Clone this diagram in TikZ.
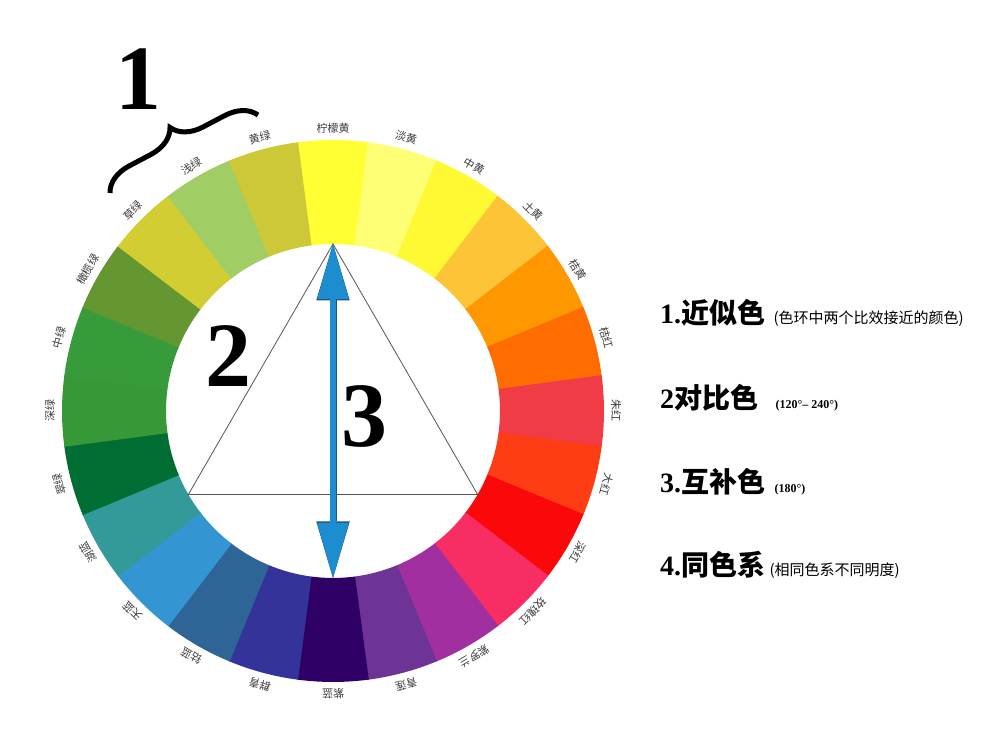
\documentclass[tikz,border=0pt]{standalone}
\usepackage{fontspec}
\newfontfamily\cjk{Noto Sans CJK SC}
\newfontfamily\numfont{Liberation Serif}
\usetikzlibrary{positioning,arrows.meta,decorations.pathreplacing}

% Hue colours, clockwise from the top
\definecolor{col0}{RGB}{255,255,51}
\definecolor{col1}{RGB}{255,255,118}
\definecolor{col2}{RGB}{255,249,52}
\definecolor{col3}{RGB}{253,196,55}
\definecolor{col4}{RGB}{255,152,0}
\definecolor{col5}{RGB}{255,108,0}
\definecolor{col6}{RGB}{240,60,70}
\definecolor{col7}{RGB}{255,61,20}
\definecolor{col8}{RGB}{250,8,10}
\definecolor{col9}{RGB}{248,45,100}
\definecolor{col10}{RGB}{162,47,160}
\definecolor{col11}{RGB}{110,51,150}
\definecolor{col12}{RGB}{46,0,102}
\definecolor{col13}{RGB}{51,51,153}
\definecolor{col14}{RGB}{46,100,150}
\definecolor{col15}{RGB}{51,150,210}
\definecolor{col16}{RGB}{51,153,153}
\definecolor{col17}{RGB}{0,110,50}
\definecolor{col18}{RGB}{55,152,55}
\definecolor{col19}{RGB}{55,155,60}
\definecolor{col20}{RGB}{100,150,50}
\definecolor{col21}{RGB}{210,205,50}
\definecolor{col22}{RGB}{160,205,100}
\definecolor{col23}{RGB}{205,200,55}
\definecolor{labelgray}{RGB}{60,60,60}
\definecolor{linegray}{RGB}{85,85,85}
\definecolor{arrowblue}{RGB}{28,142,208}
\definecolor{arrowedge}{RGB}{30,85,125}

\tikzset{
  hue label/.style={font=\cjk\fontsize{11}{11}\selectfont, text=labelgray,
    inner sep=0pt},
  big num/.style={font=\numfont\bfseries\fontsize{92}{92}\selectfont,
    inner sep=0pt},
  head/.style={font=\cjk\bfseries\fontsize{28}{28}\selectfont,
    anchor=west, inner sep=0pt},
  note/.style={font=\cjk\fontsize{15}{15}\selectfont, inner sep=0pt},
  degnote/.style={font=\numfont\bfseries\fontsize{12}{12}\selectfont,
    inner sep=0pt},
  tri line/.style={draw=linegray, line width=0.8pt},
  arrow edge/.style={draw=arrowedge, line width=7pt,
    {Triangle[length=56.5pt,width=33.5pt,line width=0pt]}-{Triangle[length=56.5pt,width=33.5pt,line width=0pt]}},
  arrow body/.style={draw=arrowblue, line width=5.8pt,
    {Triangle[length=55pt,width=31.5pt,line width=0pt]}-{Triangle[length=55pt,width=31.5pt,line width=0pt]}},
  brace mark/.style={decorate, decoration={brace, amplitude=30pt},
    line width=5pt},
}

\begin{document}
\begin{tikzpicture}[x=1pt, y=1pt]

  \fill[white] (0,0) rectangle (991,735); %
  \useasboundingbox (0,0) rectangle (991,735); %

  % Colour ring and hue names
  \begin{scope}[shift={(333,324)}]
    \foreach \k/\name in {0/柠檬黄, 1/淡黄, 2/中黄, 3/土黄, 4/桔黄, 5/桔红,
      6/朱红, 7/大红, 8/深红, 9/玫瑰红, 10/紫罗兰, 11/青莲, 12/紫蓝,
      13/群青, 14/钴蓝, 15/天蓝, 16/湖蓝, 17/翠绿, 18/深绿, 19/中绿,
      20/橄榄绿, 21/草绿, 22/浅绿, 23/黄绿} {
      \pgfmathsetmacro\a{90-15*\k}
      \fill[col\k] (\a+7.6:271pt)
        arc[start angle=\a+7.6, end angle=\a-7.6, radius=271pt]
        -- (\a-7.6:167pt)
        arc[start angle=\a-7.6, end angle=\a+7.6, radius=167pt] -- cycle; %
      \node[hue label, rotate=\a-90] (lbl-\k) at (\a:283pt) {\name}; %
    }

    % Triangle and arrow corners
    \coordinate (top) at (90:167pt); %
    \coordinate (bot) at (270:167pt); %
    \coordinate (tri-l) at (210:167pt); %
    \coordinate (tri-r) at (330:167pt); %
  \end{scope}

  % Contrast triangle
  \draw[tri line] (top) -- (tri-l) -- (tri-r) -- cycle; %

  % Complementary arrow
  \draw[arrow edge] (top) -- (bot); %
  \draw[arrow body] (top) -- (bot); %

  % Numbers
  \node[big num] (num1) at (138,656) {1}; %
  \node[big num] (num2) at (228,379) {2}; %
  \node[big num] (num3) at (364,318) {3}; %

  % Brace over the neighbouring hues
  \coordinate (brA) at (110,542); %
  \coordinate (brB) at (258,620); %
  \draw[brace mark] (brA) -- (brB); %

  % Legend
  \node[head] (h1) at (660,422) {{\numfont 1.}近似色}; %
  \node[note, base right=8pt of h1] (s1) {(色环中两个比效接近的颜色)}; %
  \node[head] (h2) at (660,337) {{\numfont 2}对比色}; %
  \node[degnote, base right=17pt of h2] (s2) {(120°– 240°)}; %
  \node[head] (h3) at (660,253) {{\numfont 3.}互补色}; %
  \node[degnote, base right=9pt of h3] (s3) {(180°)}; %
  \node[head] (h4) at (660,170) {{\numfont 4.}同色系}; %
  \node[note, base right=4pt of h4] (s4) {(相同色系不同明度)}; %

\end{tikzpicture}
\end{document}
